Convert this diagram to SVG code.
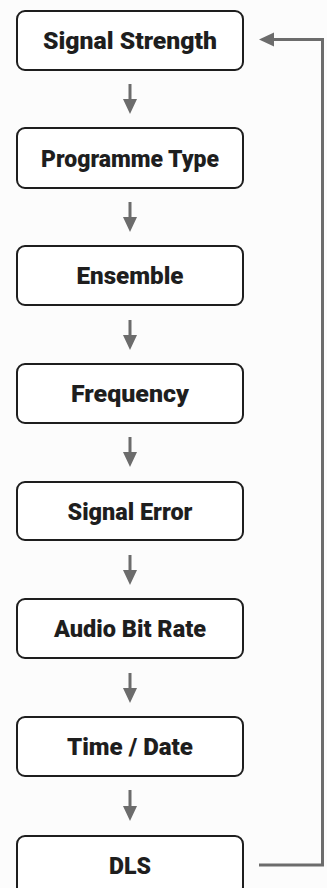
<svg xmlns="http://www.w3.org/2000/svg" width="327" height="888" viewBox="0 0 327 888">
  <style>
    .box { fill: #ffffff; stroke: #1e1e1e; stroke-width: 2; }
    .lbl { font-family: Roboto, "Liberation Sans", sans-serif; font-weight: 900; font-size: 24px; fill: #1e1e1e; text-anchor: middle; }
    .conn { stroke: #6c6c6c; stroke-width: 3; fill: none; }
  </style>
  <defs>
    <marker id="ah" markerUnits="userSpaceOnUse" markerWidth="16" markerHeight="15" refX="0" refY="7" orient="auto">
      <path d="M0,0 L15,7 L0,14 z" fill="#6c6c6c"/>
    </marker>
  </defs>
  <rect width="327" height="888" fill="#fcfcfc"/>
  <g id="connectors">
    <line class="conn" x1="130" y1="84" x2="130" y2="99" marker-end="url(#ah)"/>
    <line class="conn" x1="130" y1="202" x2="130" y2="217" marker-end="url(#ah)"/>
    <line class="conn" x1="130" y1="320" x2="130" y2="335" marker-end="url(#ah)"/>
    <line class="conn" x1="130" y1="437" x2="130" y2="452" marker-end="url(#ah)"/>
    <line class="conn" x1="130" y1="555" x2="130" y2="570" marker-end="url(#ah)"/>
    <line class="conn" x1="130" y1="673" x2="130" y2="688" marker-end="url(#ah)"/>
    <line class="conn" x1="130" y1="790" x2="130" y2="806" marker-end="url(#ah)"/>
    <path class="conn" d="M259,865 H322.5 V39.5 H274" marker-end="url(#ah)"/>
  </g>
  <g id="n1"><rect class="box" x="17" y="11" width="226" height="59" rx="8"/><text class="lbl" x="130" y="49" textLength="174" lengthAdjust="spacingAndGlyphs">Signal Strength</text></g>
  <g id="n2"><rect class="box" x="17" y="128" width="226" height="60" rx="8"/><text class="lbl" x="130" y="167" textLength="178" lengthAdjust="spacingAndGlyphs">Programme Type</text></g>
  <g id="n3"><rect class="box" x="17" y="246" width="226" height="59" rx="8"/><text class="lbl" x="130" y="284" textLength="107" lengthAdjust="spacingAndGlyphs">Ensemble</text></g>
  <g id="n4"><rect class="box" x="17" y="364" width="226" height="59" rx="8"/><text class="lbl" x="130" y="402" textLength="118" lengthAdjust="spacingAndGlyphs">Frequency</text></g>
  <g id="n5"><rect class="box" x="17" y="482" width="226" height="58" rx="8"/><text class="lbl" x="130" y="520" textLength="125" lengthAdjust="spacingAndGlyphs">Signal Error</text></g>
  <g id="n6"><rect class="box" x="17" y="599" width="226" height="59" rx="8"/><text class="lbl" x="130" y="637" textLength="152" lengthAdjust="spacingAndGlyphs">Audio Bit Rate</text></g>
  <g id="n7"><rect class="box" x="17" y="717" width="226" height="59" rx="8"/><text class="lbl" x="130" y="755" textLength="126" lengthAdjust="spacingAndGlyphs">Time / Date</text></g>
  <g id="n8"><rect class="box" x="17" y="836" width="226" height="59" rx="8"/><text class="lbl" x="130" y="874" textLength="42" lengthAdjust="spacingAndGlyphs">DLS</text></g>
</svg>
